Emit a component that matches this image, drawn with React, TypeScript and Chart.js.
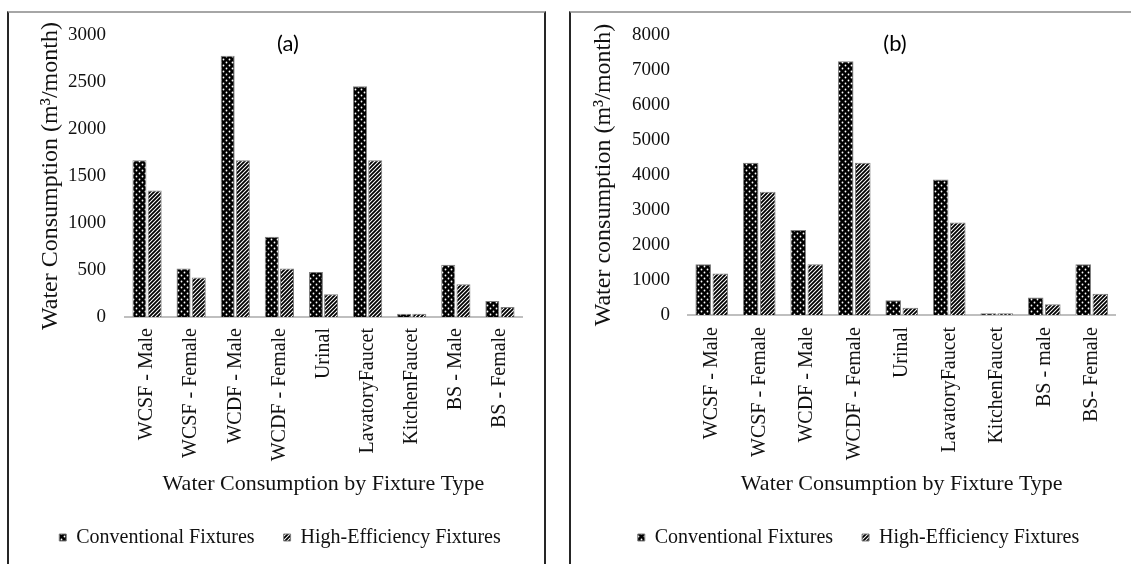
import React, { useEffect, useRef } from "react";
import { Chart, registerables } from "chart.js";

Chart.register(...registerables);

// ---------- data ----------
const categoriesA = [
  "WCSF - Male",
  "WCSF - Female",
  "WCDF - Male",
  "WCDF - Female",
  "Urinal",
  "LavatoryFaucet",
  "KitchenFaucet",
  "BS - Male",
  "BS - Female",
];
const conventionalA = [1667, 516, 2778, 854, 480, 2455, 35, 555, 171];
const highEfficiencyA = [1345, 420, 1667, 516, 242, 1667, 35, 348, 107];

const categoriesB = [
  "WCSF - Male",
  "WCSF - Female",
  "WCDF - Male",
  "WCDF - Female",
  "Urinal",
  "LavatoryFaucet",
  "KitchenFaucet",
  "BS - male",
  "BS- Female",
];
const conventionalB = [1453, 4347, 2427, 7250, 421, 3868, 50, 497, 1453];
const highEfficiencyB = [1184, 3525, 1453, 4347, 210, 2645, 50, 306, 610];

const seriesNames = ["Conventional Fixtures", "High-Efficiency Fixtures"];
const yAxisA = { min: 0, max: 3000, step: 500 };
const yAxisB = { min: 0, max: 8000, step: 1000 };
const xTitle = "Water Consumption by Fixture Type";
const yTitleA = "Water Consumption (m³/month)";
const yTitleB = "Water consumption (m³/month)";

// ---------- styles ----------
const SERIF = "'Liberation Serif', 'Times New Roman', serif";
const TEXT = "#111111";

function makeDots(): CanvasPattern {
  const c = document.createElement("canvas");
  c.width = 6;
  c.height = 6;
  const g = c.getContext("2d")!;
  g.fillStyle = "#000";
  g.fillRect(0, 0, 6, 6);
  g.fillStyle = "#fff";
  g.beginPath();
  g.arc(1.5, 1.5, 0.9, 0, Math.PI * 2);
  g.arc(4.5, 4.5, 0.9, 0, Math.PI * 2);
  g.fill();
  return g.createPattern(c, "repeat")!;
}

function makeStripes(): CanvasPattern {
  const c = document.createElement("canvas");
  c.width = 4;
  c.height = 4;
  const g = c.getContext("2d")!;
  g.fillStyle = "#fff";
  g.fillRect(0, 0, 4, 4);
  g.strokeStyle = "#000";
  g.lineWidth = 1.8;
  g.beginPath();
  g.moveTo(-1, 5);
  g.lineTo(5, -1);
  g.moveTo(-1, 1);
  g.lineTo(1, -1);
  g.moveTo(3, 5);
  g.lineTo(5, 3);
  g.stroke();
  return g.createPattern(c, "repeat")!;
}

type PanelProps = {
  left: number;
  width: number;
  padLeft: number;
  padRight: number;
  yWidth: number;
  y2Width: number;
  xHeight: number;
  yTitlePad: number;
  tickPadX: number;
  tickPadY: number;
  catPct: number;
  barPct: number;
  categories: string[];
  conv: number[];
  he: number[];
  yAxis: { min: number; max: number; step: number };
  yTitle: string;
  label: string;
  labelX: number;
  labelY: number;
};

function Panel(p: PanelProps) {
  const ref = useRef<HTMLCanvasElement | null>(null);
  useEffect(() => {
    if (!ref.current) return;
    const dots = makeDots();
    const stripes = makeStripes();
    const panelLabel = {
      id: "panelLabel",
      afterDraw(chart: any) {
        const ctx = chart.ctx;
        ctx.save();
        ctx.font = "22px Lato, 'Open Sans', sans-serif";
        ctx.fillStyle = "#000";
        ctx.textAlign = "center";
        ctx.textBaseline = "middle";
        ctx.fillText(p.label, p.labelX, p.labelY);
        ctx.restore();
      },
    };
    const chart = new Chart(ref.current, {
      type: "bar",
      data: {
        labels: p.categories,
        datasets: [
          {
            label: seriesNames[0],
            data: p.conv,
            backgroundColor: dots,
            borderColor: "#7f7f7f",
            borderWidth: 1,
            categoryPercentage: p.catPct,
            barPercentage: p.barPct,
          },
          {
            label: seriesNames[1],
            data: p.he,
            backgroundColor: stripes,
            borderColor: "#7f7f7f",
            borderWidth: 1,
            categoryPercentage: p.catPct,
            barPercentage: p.barPct,
          },
        ],
      },
      options: {
        animation: false,
        responsive: false,
        devicePixelRatio: 1,
        layout: { padding: { left: p.padLeft, right: p.padRight, top: 22, bottom: 19.5 } },
        plugins: {
          legend: {
            position: "bottom",
            labels: {
              boxWidth: 7,
              boxHeight: 7,
              padding: 29,
              color: TEXT,
              font: { family: SERIF, size: 20 },
            },
          },
          tooltip: { enabled: false },
          title: { display: false },
        },
        scales: {
          x: {
            grid: { display: false, drawTicks: false },
            border: { display: true, color: "#bfbfbf", width: 2 },
            ticks: {
              autoSkip: false,
              minRotation: 90,
              maxRotation: 90,
              padding: p.tickPadX,
              color: TEXT,
              font: { family: SERIF, size: 20 },
            },
            title: {
              display: true,
              text: xTitle,
              color: TEXT,
              font: { family: SERIF, size: 22, lineHeight: 1.2 },
              padding: { top: 0, bottom: 1.5 },
            },
            afterFit: (s: any) => {
              s.height = p.xHeight;
            },
          },
          y: {
            min: p.yAxis.min,
            max: p.yAxis.max,
            grid: { display: false, drawTicks: false },
            border: { display: false },
            ticks: {
              stepSize: p.yAxis.step,
              padding: p.tickPadY,
              color: TEXT,
              font: { family: SERIF, size: 19 },
              callback: (v: any) => String(v),
            },
            title: {
              display: true,
              text: p.yTitle,
              color: TEXT,
              font: { family: SERIF, size: 24, lineHeight: 1 },
              padding: { top: p.yTitlePad, bottom: 0 },
            },
            afterFit: (s: any) => {
              s.width = p.yWidth;
              s.paddingTop = 0;
              s.paddingBottom = 0;
            },
          },
          y2: {
            position: "right",
            display: true,
            grid: { display: false, drawTicks: false },
            border: { display: false },
            ticks: { display: false },
            afterFit: (s: any) => {
              s.width = p.y2Width;
              s.paddingTop = 0;
              s.paddingBottom = 0;
            },
          },
        },
      },
      plugins: [panelLabel],
    } as any);
    return () => chart.destroy();
  }, []);
  return (
    <canvas
      ref={ref}
      width={p.width}
      height={564}
      style={{ position: "absolute", left: p.left, top: 13, width: p.width, height: 564 }}
    />
  );
}

export default function App() {
  return (
    <div
      style={{
        position: "absolute",
        left: 0,
        top: 0,
        width: 1131,
        height: 564,
        overflow: "hidden",
        background: "#fff",
      }}
    >
      <div
        style={{
          position: "absolute",
          left: 7,
          top: 11,
          width: 535,
          height: 600,
          borderTop: "2px solid #a6a6a6",
          borderLeft: "2px solid #262626",
          borderRight: "2px solid #262626",
        }}
      />
      <div
        style={{
          position: "absolute",
          left: 569,
          top: 11,
          width: 600,
          height: 600,
          borderTop: "2px solid #a6a6a6",
          borderLeft: "2px solid #262626",
        }}
      />
      <Panel
        left={9}
        width={536}
        padLeft={16}
        padRight={10}
        yWidth={100}
        y2Width={13}
        xHeight={181.5}
        yTitlePad={14}
        tickPadX={11}
        tickPadY={19}
        catPct={0.69}
        barPct={0.92}
        categories={categoriesA}
        conv={conventionalA}
        he={highEfficiencyA}
        yAxis={yAxisA}
        yTitle={yTitleA}
        label="(a)"
        labelX={279}
        labelY={31}
      />
      <Panel
        left={571}
        width={560}
        padLeft={29}
        padRight={14}
        yWidth={88}
        y2Width={1.5}
        xHeight={183.5}
        yTitlePad={-8}
        tickPadX={12}
        tickPadY={18}
        catPct={0.72}
        barPct={0.91}
        categories={categoriesB}
        conv={conventionalB}
        he={highEfficiencyB}
        yAxis={yAxisB}
        yTitle={yTitleB}
        label="(b)"
        labelX={324}
        labelY={31}
      />
    </div>
  );
}
